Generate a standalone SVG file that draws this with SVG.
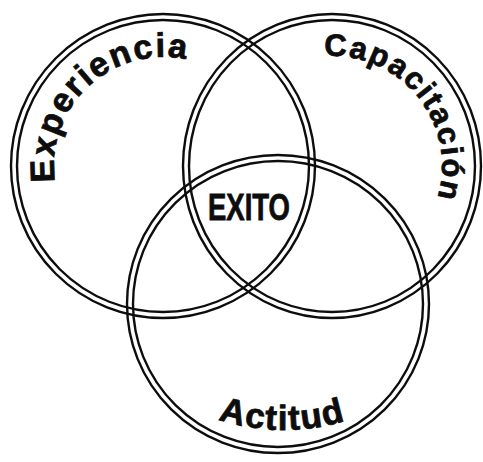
<svg xmlns="http://www.w3.org/2000/svg" width="483" height="462" viewBox="0 0 483 462">
<style>
.ring{fill:none;stroke:#0d0d0d;stroke-width:2.4}
.lbl{font-family:"Liberation Sans",Arial,sans-serif;font-weight:bold;fill:#0d0d0d}
.arc{stroke:#0d0d0d;stroke-width:0.8}
</style>
<defs>
<path id="pExp" d="M60.6,203.3 A109,109 0 0 1 217.5,71.6"/>
<path id="pCap" d="M303.5,59.7 A110,110 0 0 1 427.3,221"/>
<path id="pAct" d="M180,402.4 A210,210 0 0 0 388,402.4"/>
</defs>
<rect width="483" height="462" fill="#ffffff"/>
<g id="experiencia">
<ellipse class="ring" cx="163" cy="166" rx="146" ry="146"/>
<ellipse class="ring" cx="163" cy="166" rx="152" ry="152"/>
<text class="lbl arc" font-size="34" letter-spacing="1.9"><textPath href="#pExp" startOffset="22">Experiencia</textPath></text>
</g>
<g id="capacitacion">
<ellipse class="ring" cx="332" cy="166" rx="143" ry="146"/>
<ellipse class="ring" cx="332" cy="166" rx="149" ry="152"/>
<text class="lbl arc" font-size="31" letter-spacing="1.8"><textPath href="#pCap" startOffset="20.7">Capacitación</textPath></text>
</g>
<g id="actitud">
<ellipse class="ring" cx="278" cy="304" rx="145" ry="143"/>
<ellipse class="ring" cx="278" cy="304" rx="151" ry="149"/>
<text class="lbl arc" font-size="35" letter-spacing="1.4"><textPath href="#pAct" startOffset="41.8">Actitud</textPath></text>
</g>
<g id="exito">
<text class="lbl arc" x="208" y="220" font-size="37" textLength="82" lengthAdjust="spacingAndGlyphs">EXITO</text>
</g>
<g id="connectors"/>
</svg>
